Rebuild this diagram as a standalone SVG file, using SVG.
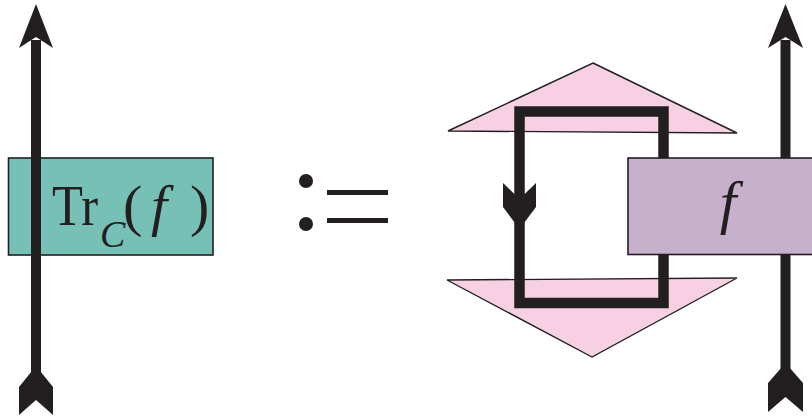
<svg xmlns="http://www.w3.org/2000/svg" width="812" height="416" viewBox="0 0 812 416">
  <defs>
    <style>
      .wire { stroke: #231f20; stroke-width: 10; fill: none; }
      .ink { fill: #231f20; }
      .box { stroke: #231f20; stroke-width: 1.6; }
      .tri { fill: #f7d1e3; stroke: #231f20; stroke-width: 1.4; stroke-linejoin: miter; }
      .serif { font-family: "Liberation Serif", "Times New Roman", serif; fill: #231f20; }
    </style>
  </defs>
  <rect width="812" height="416" fill="#ffffff"/>

  <g id="connectors">
    <!-- right wire (behind box f) -->
    <line class="wire" x1="785.5" y1="40" x2="785.5" y2="380"/>
    <polygon class="ink" points="785.5,4 803,48 785.5,37 768,48"/>
    <polygon class="ink" points="785.5,363 803,383 803,412 785.5,397 768,412 768,383"/>
  </g>

  <g id="triangle-top">
    <polygon class="tri" points="593,63 737,133 448,131"/>
  </g>
  <g id="triangle-bottom">
    <polygon class="tri" points="447,280 737,278 592,357"/>
  </g>

  <g id="loop">
    <rect x="519.5" y="111.5" width="144" height="191.5" fill="none" stroke="#231f20" stroke-width="10.5" stroke-linejoin="miter"/>
    <polygon class="ink" points="503,183 519.5,199 536,183 536,207 519.5,229 503,207"/>
  </g>

  <g id="box-f">
    <rect class="box" x="628" y="158" width="200" height="96.5" fill="#c7b0cc"/>
    <text class="serif" x="728" y="222" font-size="60" font-style="italic" text-anchor="middle">f</text>
  </g>

  <g id="box-trace">
    <rect class="box" x="8.5" y="158" width="204.5" height="97" fill="#76c0b5"/>
    <text class="serif" font-size="58"><tspan x="52" y="225" textLength="46" lengthAdjust="spacingAndGlyphs">Tr</tspan><tspan x="100" y="247" font-size="38" font-style="italic">C</tspan><tspan x="123" y="225">(</tspan><tspan x="151" y="225" font-style="italic">f</tspan><tspan x="190" y="225">)</tspan></text>
  </g>

  <g id="left-wire">
    <line class="wire" x1="36" y1="40" x2="36" y2="380"/>
    <polygon class="ink" points="36,4 53,48 36,37 19,48"/>
    <polygon class="ink" points="36,366 53,387 53,415 36,400 19,415 19,387"/>
  </g>

  <g id="defines">
    <circle class="ink" cx="306" cy="181" r="7"/>
    <circle class="ink" cx="306" cy="224" r="7"/>
    <rect class="ink" x="327" y="190" width="61" height="5"/>
    <rect class="ink" x="327" y="218" width="61" height="5"/>
  </g>
</svg>
